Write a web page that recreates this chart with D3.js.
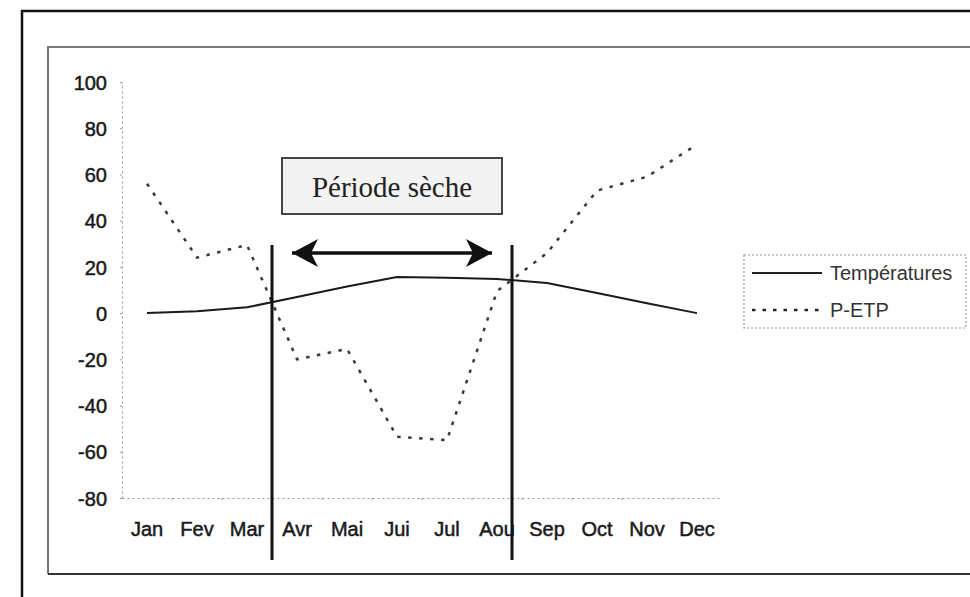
<!DOCTYPE html>
<html>
<head>
<meta charset="utf-8">
<script src="https://cdnjs.cloudflare.com/ajax/libs/d3/7.8.5/d3.min.js"></script>
<style>
  body { margin: 0; background: #fff; }
  svg { display: block; }
  .axis text { font-family: "Liberation Sans", Arial, sans-serif; font-size: 20px; fill: #1a1a1a; stroke: #1a1a1a; stroke-width: 0.5px; }
  .axis path, .axis line { stroke: #999; stroke-dasharray: 2,3; }
</style>
</head>
<body>
<svg id="chart" width="970" height="597"></svg>
<script>
// data
var months = ["Jan", "Fev", "Mar", "Avr", "Mai", "Jui", "Jul", "Aou", "Sep", "Oct", "Nov", "Dec"];
var temperatures = [0, 0.8, 2.5, 7, 11.5, 15.6, 15.3, 14.8, 13, 8.7, 4.3, 0];
var petp = [56, 24, 29.5, -20, -15.5, -53.5, -55, 9.5, 26, 53, 59, 73];
var yTicks = [-80, -60, -40, -20, 0, 20, 40, 60, 80, 100];
var dryPeriod = [2.5, 7.3]; // month index of the two vertical lines
var boxLabel = "Période sèche";
var legendNames = ["Températures", "P-ETP"];

var svg = d3.select("#chart");

// frames
svg.append("path")
    .attr("d", "M970,11H22V597")
    .attr("fill", "none").attr("stroke", "#111").attr("stroke-width", 2.5);
svg.append("path")
    .attr("d", "M970,47H48V574")
    .attr("fill", "none").attr("stroke", "#777").attr("stroke-width", 2);
svg.append("line")
    .attr("x1", 48).attr("x2", 970).attr("y1", 574).attr("y2", 574)
    .attr("stroke", "#333").attr("stroke-width", 2.2);

var x = d3.scaleBand().domain(months).range([122, 722]).padding(0);
var xi = d3.scaleLinear().domain([0, 11])
    .range([x("Jan") + x.bandwidth() / 2, x("Dec") + x.bandwidth() / 2]);
var y = d3.scaleLinear().domain([-80, 100]).range([498, 82]);

var yAxis = svg.append("g")
    .attr("class", "axis")
    .attr("transform", "translate(122,0)")
    .call(d3.axisLeft(y).tickValues(yTicks).tickSize(4).tickPadding(11).tickSizeOuter(0)
        .tickFormat(function(d) { return String(d); }));
yAxis.selectAll("text").attr("dy", "0.36em");

var xAxis = svg.append("g")
    .attr("class", "axis")
    .attr("transform", "translate(0,498)")
    .call(d3.axisBottom(x).tickSize(0).tickPadding(24).tickSizeOuter(0));
xAxis.selectAll("text").attr("dy", "0.71em");
// small marks between months
xAxis.selectAll(".sep")
    .data(months.slice(1))
    .enter().append("line")
    .attr("x1", function(d) { return x(d); })
    .attr("x2", function(d) { return x(d); })
    .attr("y1", 0).attr("y2", 4)
    .attr("stroke", "#bbb");

// lines
var line = d3.line()
    .x(function(d, i) { return xi(i); })
    .y(function(d) { return y(d); });

svg.append("path")
    .datum(temperatures)
    .attr("fill", "none")
    .attr("stroke", "#1a1a1a")
    .attr("stroke-width", 2)
    .attr("d", line);

svg.append("path")
    .datum(petp)
    .attr("fill", "none")
    .attr("stroke", "#3a3a3a")
    .attr("stroke-width", 2.5)
    .attr("stroke-dasharray", "3.5,7.5")
    .attr("d", line);

// dry period markers
svg.selectAll(".dry")
    .data(dryPeriod)
    .enter().append("line")
    .attr("class", "dry")
    .attr("x1", function(d) { return xi(d); })
    .attr("x2", function(d) { return xi(d); })
    .attr("y1", 245).attr("y2", 560)
    .attr("stroke", "#111").attr("stroke-width", 3);

// double arrow
var defs = svg.append("defs");
defs.append("marker")
    .attr("id", "head")
    .attr("viewBox", "0 0 26 28")
    .attr("refX", 26).attr("refY", 14)
    .attr("markerWidth", 26).attr("markerHeight", 28)
    .attr("markerUnits", "userSpaceOnUse")
    .attr("orient", "auto-start-reverse")
    .append("path")
    .attr("d", "M0,0L26,14L0,28L7,14Z")
    .attr("fill", "#111");

svg.append("line")
    .attr("x1", xi(dryPeriod[0]) + 20).attr("x2", xi(dryPeriod[1]) - 20)
    .attr("y1", 253).attr("y2", 253)
    .attr("stroke", "#111").attr("stroke-width", 3.5)
    .attr("marker-start", "url(#head)")
    .attr("marker-end", "url(#head)");

// label box
svg.append("rect")
    .attr("x", 282).attr("y", 158).attr("width", 220).attr("height", 56)
    .attr("fill", "#f3f3f3").attr("stroke", "#333").attr("stroke-width", 1.8);
svg.append("text")
    .attr("x", 392).attr("y", 197)
    .attr("text-anchor", "middle")
    .style("font-family", "'Liberation Serif', 'Times New Roman', serif")
    .style("font-size", "29px")
    .attr("fill", "#222")
    .text(boxLabel);

// legend
var legend = svg.append("g").attr("transform", "translate(744,255)");
legend.append("rect")
    .attr("width", 222).attr("height", 73)
    .attr("fill", "none").attr("stroke", "#999")
    .attr("stroke-dasharray", "2,2").attr("stroke-width", 1.2);
var items = legend.selectAll(".item")
    .data(legendNames)
    .enter().append("g")
    .attr("transform", function(d, i) { return "translate(0," + (18 + i * 37) + ")"; });
items.append("line")
    .attr("x1", 8).attr("x2", 78)
    .attr("stroke", "#222")
    .attr("stroke-width", function(d, i) { return i ? 2.5 : 2; })
    .attr("stroke-dasharray", function(d, i) { return i ? "3.5,7" : null; });
items.append("text")
    .attr("x", 86).attr("dy", "0.36em")
    .style("font-family", "'Liberation Sans', Arial, sans-serif")
    .style("font-size", "20px")
    .attr("fill", "#333")
    .text(function(d) { return d; });
</script>
</body>
</html>
